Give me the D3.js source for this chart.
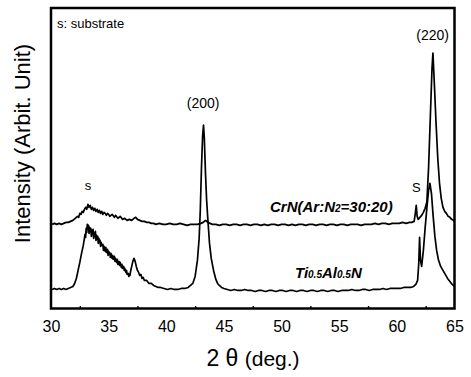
<!DOCTYPE html>
<html>
<head>
<meta charset="utf-8">
<script src="https://cdn.jsdelivr.net/npm/d3@7"></script>
<style>
  body { margin: 0; background: #fff; }
  svg text { font-family: "Liberation Sans", Arial, sans-serif; fill: #000; }
</style>
</head>
<body>
<div id="chart"></div>
<script>
// data: [2 theta, intensity (arb.)]
const crn_points = [
  [30.1,84],[30.3,85],[30.5,84],[30.7,85],[30.9,84],[31.1,85],[31.3,86],[31.5,86],[31.7,87],[31.9,88],
  [32.1,90],[32.3,92],[32.4,91],[32.5,95],[32.6,94],[32.7,97],[32.8,96],[32.9,99],[33.0,101],[33.1,99],
  [33.2,104],[33.3,101],[33.4,103],[33.5,99],[33.6,101],[33.7,98],[33.8,100],[33.9,97],[34.0,99],[34.1,96],
  [34.2,98],[34.3,95],[34.4,97],[34.5,94],[34.6,96],[34.7,95],[34.8,93],[34.9,95],[35.0,94],[35.1,92],
  [35.3,94],[35.5,91],[35.6,93],[35.8,90],[36.0,92],[36.2,89],[36.4,90],[36.6,88],[36.8,89],[37.0,88],
  [37.2,90],[37.35,91],[37.5,89],[37.7,88],[37.9,87],[38.1,87],[38.3,86],[38.5,86],[38.7,85],[38.9,85],
  [39.1,84],[39.4,85],[39.7,84],[40.0,84],[40.3,85],[40.6,84],[40.9,84],[41.2,85],[41.5,84],[41.8,83],
  [42.1,84],[42.4,84],[42.7,84],[43.0,85],[43.2,86],[43.4,88],[43.6,86],[43.8,85],[44.0,84],[44.3,84],
  [44.6,83],[44.9,84],[45.2,84],[45.5,83],[45.8,84],[46.1,84],[46.4,83],[46.7,84],[47.0,84],[47.3,83],
  [47.6,84],[47.9,84],[48.2,83],[48.5,84],[48.8,83],[49.1,84],[49.4,84],[49.7,83],[50.0,84],[50.3,84],
  [50.6,83],[50.9,84],[51.2,83],[51.5,84],[51.8,84],[52.1,83],[52.4,84],[52.7,84],[53.0,83],[53.3,84],
  [53.6,84],[53.9,83],[54.2,84],[54.5,84],[54.8,83],[55.1,84],[55.4,84],[55.7,83],[56.0,84],[56.3,84],
  [56.6,84],[56.9,83],[57.2,84],[57.5,84],[57.8,84],[58.1,85],[58.4,84],[58.7,85],[59.0,85],[59.3,84],
  [59.6,85],[59.9,85],[60.2,85],[60.5,86],[60.8,85],[61.1,86],[61.3,86],[61.5,87],[61.6,95],[61.68,103],
  [61.76,92],[61.85,89],[62.0,91],[62.15,93],[62.3,96],[62.45,100],[62.6,106],[62.75,140],[62.9,190],[63.05,240],
  [63.13,255],[63.25,225],[63.4,185],[63.55,150],[63.7,125],[63.85,110],[64.0,101],[64.15,97],[64.3,95],[64.45,92],
  [64.6,91],[64.75,89],[64.9,88],[65.0,87]
];

const tialn_points = [
  [30.1,19],[30.3,20],[30.5,19],[30.7,20],[30.9,19],[31.1,20],[31.3,19],[31.5,20],[31.7,21],[31.9,22],
  [32.05,25],[32.2,30],[32.35,38],[32.5,46],[32.65,55],[32.8,63],[32.9,70],[32.95,74],[33.0,71],[33.05,80],
  [33.1,76],[33.15,84],[33.2,79],[33.25,83],[33.3,75],[33.35,81],[33.4,77],[33.45,80],[33.5,72],[33.55,78],
  [33.6,74],[33.65,79],[33.7,70],[33.75,75],[33.8,72],[33.85,77],[33.9,68],[33.95,73],[34.0,69],[34.05,72],
  [34.1,65],[34.15,70],[34.2,66],[34.25,68],[34.3,62],[34.35,66],[34.4,63],[34.5,64],[34.55,58],[34.6,62],
  [34.7,57],[34.75,61],[34.8,56],[34.9,59],[34.95,53],[35.0,57],[35.1,55],[35.15,51],[35.2,55],[35.3,50],
  [35.35,53],[35.4,49],[35.5,52],[35.55,47],[35.6,50],[35.7,46],[35.75,49],[35.8,44],[35.9,47],[35.95,43],
  [36.0,46],[36.1,41],[36.15,44],[36.2,40],[36.3,42],[36.35,38],[36.4,40],[36.5,36],[36.55,38],[36.6,34],
  [36.7,35],[36.75,32],[36.8,34],[36.85,33],[36.9,37],[37.0,42],[37.1,47],[37.2,50],[37.3,47],[37.4,42],
  [37.5,38],[37.6,36],[37.7,33],[37.8,34],[37.9,30],[38.0,31],[38.1,28],[38.3,28],[38.5,25],[38.7,25],
  [38.9,23],[39.1,22],[39.3,21],[39.5,21],[39.8,20],[40.1,19],[40.4,20],[40.7,19],[41.0,19],[41.3,20],
  [41.6,20],[41.9,21],[42.1,23],[42.3,25],[42.5,32],[42.7,48],[42.85,70],[42.95,98],[43.05,140],[43.15,172],
  [43.23,183],[43.3,170],[43.4,135],[43.5,108],[43.6,90],[43.75,65],[43.9,50],[44.1,38],[44.3,29],[44.45,25],
  [44.6,23],[44.8,21],[45.0,20],[45.3,19],[45.6,18],[45.9,19],[46.2,18],[46.5,18],[46.8,19],[47.1,18],
  [47.4,18],[47.7,17],[48.0,18],[48.3,18],[48.6,17],[48.9,18],[49.2,18],[49.5,17],[49.8,18],[50.1,18],
  [50.4,17],[50.7,18],[51.0,18],[51.3,17],[51.6,18],[51.9,18],[52.2,17],[52.5,18],[52.8,18],[53.1,17],
  [53.4,18],[53.7,18],[54.0,17],[54.3,18],[54.6,18],[54.9,17],[55.2,18],[55.5,18],[55.8,18],[56.1,19],
  [56.4,18],[56.7,18],[57.0,19],[57.3,19],[57.6,18],[57.9,19],[58.2,19],[58.5,19],[58.8,20],[59.1,19],
  [59.4,20],[59.7,20],[60.0,20],[60.3,20],[60.6,21],[60.9,21],[61.2,21],[61.45,22],[61.65,24],[61.8,28],
  [61.9,45],[61.97,71],[62.05,48],[62.15,42],[62.3,58],[62.45,80],[62.6,100],[62.75,118],[62.87,125],[63.0,115],
  [63.15,92],[63.3,72],[63.45,58],[63.6,49],[63.8,42],[64.0,38],[64.2,34],[64.4,30],[64.6,27],[64.8,24],
  [65.0,22]
];

const x_ticks_major = [30, 35, 40, 45, 50, 55, 60, 65];
const x_ticks_minor = [32.5, 37.5, 42.5, 47.5, 52.5, 57.5, 62.5];

// peak / substrate annotations: [2 theta, intensity, text]
const peak_labels = [
  [43.2, 200, "(200)"],
  [63.1, 268, "(220)"],
  [33.2, 118, "s"],
  [61.7, 116, "S"]
];

// layout
const width_svg = 471, height_svg = 377;
const plot = { left: 51, top: 8, right: 454.5, bottom: 308.5 };

const svg = d3.select("#chart")
  .append("svg")
    .attr("width", width_svg)
    .attr("height", height_svg);

const x = d3.scaleLinear()
  .domain([30, 65])
  .range([plot.left, plot.right]);

const y = d3.scaleLinear()
  .domain([0, 300])
  .range([plot.bottom, plot.top]);

// clip for the right edge of the picture (the "65" label is cut)
svg.append("clipPath").attr("id", "pic_clip")
  .append("rect").attr("x", 0).attr("y", 0).attr("width", 466).attr("height", height_svg);

// x axis, ticks pointing inward
const x_axis = svg.append("g")
  .attr("transform", `translate(0, ${plot.bottom})`)
  .attr("clip-path", "url(#pic_clip)")
  .call(d3.axisBottom(x)
    .tickValues(x_ticks_major)
    .tickSizeInner(-4.5)
    .tickSizeOuter(0)
    .tickPadding(10)
    .tickFormat(d3.format("d")));
x_axis.select(".domain").remove();
x_axis.selectAll("line").attr("stroke", "#000").attr("stroke-width", 1.6);
x_axis.selectAll("text")
  .attr("font-size", "16px")
  .attr("font-family", "Liberation Sans, Arial, sans-serif")
  .attr("dy", "0.85em");

const x_minor = svg.append("g")
  .attr("transform", `translate(0, ${plot.bottom})`)
  .call(d3.axisBottom(x)
    .tickValues(x_ticks_minor)
    .tickSizeInner(-2.5)
    .tickSizeOuter(0)
    .tickFormat(""));
x_minor.select(".domain").remove();
x_minor.selectAll("line").attr("stroke", "#000").attr("stroke-width", 1.4);

// curves
const line_generator = d3.line()
  .x(d => x(d[0]))
  .y(d => y(d[1]));

[crn_points, tialn_points].forEach(points => {
  svg.append("path")
    .datum(points)
    .attr("d", line_generator)
    .attr("fill", "none")
    .attr("stroke", "#000")
    .attr("stroke-width", 1.7)
    .attr("stroke-linejoin", "round");
});

// frame
svg.append("rect")
  .attr("x", plot.left)
  .attr("y", plot.top)
  .attr("width", plot.right - plot.left)
  .attr("height", plot.bottom - plot.top)
  .attr("fill", "none")
  .attr("stroke", "#000")
  .attr("stroke-width", 2.5);

// annotations
svg.selectAll("text.peak")
  .data(peak_labels)
  .join("text")
    .attr("class", "peak")
    .attr("x", d => x(d[0]))
    .attr("y", d => y(d[1]))
    .attr("text-anchor", "middle")
    .style("font-size", d => d[2].length > 1 ? "14px" : "13px")
    .text(d => d[2]);

svg.append("text")
  .attr("x", 57)
  .attr("y", 28)
  .style("font-size", "13px")
  .text("s: substrate");

// series labels
const crn_label = svg.append("text")
  .attr("x", 270)
  .attr("y", 212)
  .style("font-size", "15px")
  .style("font-weight", "bold")
  .style("font-style", "italic");
crn_label.append("tspan").text("CrN(Ar:N");
crn_label.append("tspan").style("font-size", "10px").text("2");
crn_label.append("tspan").text("=30:20)");

const ti_label = svg.append("text")
  .attr("x", 295)
  .attr("y", 278)
  .style("font-size", "15px")
  .style("font-weight", "bold")
  .style("font-style", "italic");
ti_label.append("tspan").text("Ti");
ti_label.append("tspan").style("font-size", "10px").text("0.5");
ti_label.append("tspan").text("Al");
ti_label.append("tspan").style("font-size", "10px").text("0.5");
ti_label.append("tspan").text("N");

// axis titles
const x_title = svg.append("text")
  .attr("x", 253)
  .attr("y", 366)
  .attr("text-anchor", "middle")
  .style("font-size", "23px");
x_title.append("tspan").text("2 θ ");
x_title.append("tspan").style("font-size", "21px").text("(deg.)");

svg.append("text")
  .attr("transform", `translate(29.5, 143.5) rotate(-90)`)
  .attr("text-anchor", "middle")
  .style("font-size", "22px")
  .text("Intensity (Arbit. Unit)");
</script>
</body>
</html>
